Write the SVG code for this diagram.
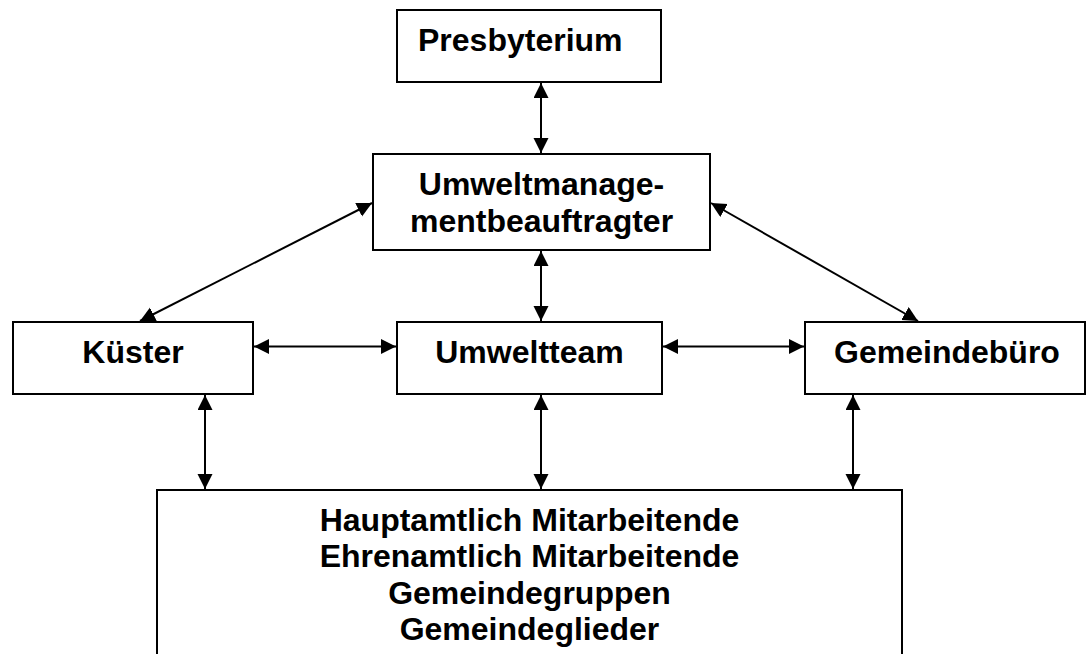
<svg xmlns="http://www.w3.org/2000/svg" width="1087" height="654" viewBox="0 0 1087 654">
<style>
.box{fill:#fff;stroke:#000;stroke-width:2}
.t{font-family:"Liberation Sans",Arial,sans-serif;font-weight:bold;font-size:32px;fill:#000}
.c{text-anchor:middle}
.conn line{stroke:#000;stroke-width:2;marker-start:url(#ah);marker-end:url(#ah)}
</style>
<defs>
<marker id="ah" markerUnits="userSpaceOnUse" markerWidth="16" markerHeight="16" refX="15" refY="7.5" orient="auto-start-reverse" viewBox="0 0 16 16">
<path d="M0,0 L15,7.5 L0,15 z" fill="#000"/>
</marker>
</defs>
<rect width="1087" height="654" fill="#fff"/>
<g id="presbyterium">
<rect class="box" x="397" y="10" width="264" height="72"/>
<text class="t" x="418" y="51">Presbyterium</text>
</g>
<g id="umweltmanagementbeauftragter">
<rect class="box" x="373" y="154" width="337" height="96"/>
<text class="t c" x="541.5" y="195">Umweltmanage-</text>
<text class="t c" x="541.5" y="232">mentbeauftragter</text>
</g>
<g id="kuester">
<rect class="box" x="13" y="322" width="240" height="72"/>
<text class="t c" x="133" y="363">Küster</text>
</g>
<g id="umweltteam">
<rect class="box" x="397" y="322" width="265" height="72"/>
<text class="t c" x="529.5" y="363">Umweltteam</text>
</g>
<g id="gemeindebuero">
<rect class="box" x="805" y="322" width="280" height="72"/>
<text class="t c" x="947" y="363">Gemeindebüro</text>
</g>
<g id="mitarbeitende">
<rect class="box" x="157" y="490" width="745" height="180"/>
<text class="t c" x="529.5" y="531">Hauptamtlich Mitarbeitende</text>
<text class="t c" x="529.5" y="567">Ehrenamtlich Mitarbeitende</text>
<text class="t c" x="529.5" y="604">Gemeindegruppen</text>
<text class="t c" x="529.5" y="640">Gemeindeglieder</text>
</g>
<g id="connectors" class="conn">
<line x1="541" y1="83" x2="541" y2="153"/>
<line x1="541" y1="251" x2="541" y2="321"/>
<line x1="372" y1="203" x2="140" y2="321"/>
<line x1="711" y1="203" x2="918" y2="321"/>
<line x1="254" y1="346.5" x2="396" y2="346.5"/>
<line x1="663" y1="346.5" x2="804" y2="346.5"/>
<line x1="205" y1="395" x2="205" y2="489"/>
<line x1="541" y1="395" x2="541" y2="489"/>
<line x1="853" y1="395" x2="853" y2="489"/>
</g>
</svg>
